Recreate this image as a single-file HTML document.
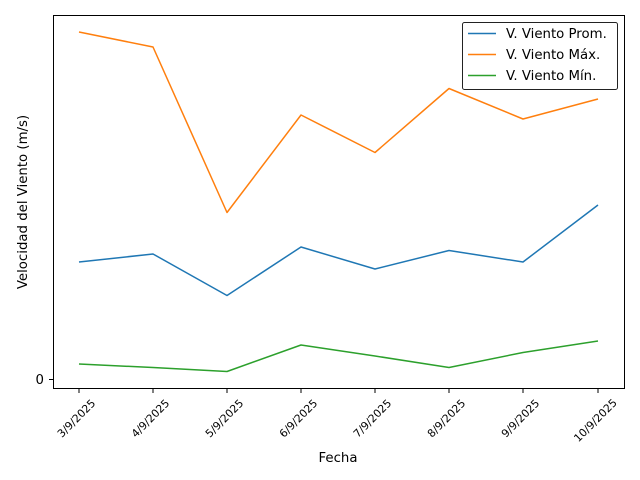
<!DOCTYPE html>
<html><head><meta charset="utf-8"><style>body{margin:0;background:#fff}svg{display:block}</style></head><body>
<svg width="640" height="480" xmlns="http://www.w3.org/2000/svg" font-family="DejaVu Sans, Liberation Sans, sans-serif">
<rect x="0" y="0" width="640" height="480" fill="#fff"/>
<g fill="none" stroke-width="1.5" stroke-linejoin="round">
<polyline stroke="#1f77b4" points="79,262 153,254 227,295.5 301,247 375,269 449,250.5 523,262 598,205"/>
<polyline stroke="#ff7f0e" points="79,32 153,47 227,212.5 301,115 375,152.5 449,88.5 523,119 598,99"/>
<polyline stroke="#2ca02c" points="79,364 153,367.5 227,371.5 301,345 375,356 449,367.5 523,352.5 598,341"/>
</g>
<rect x="53.5" y="15.5" width="571" height="373" fill="none" stroke="#000" stroke-width="1"/>
<g stroke="#000">
<line x1="49" y1="379.5" x2="53.5" y2="379.5"/>
<line x1="79" y1="388.5" x2="79" y2="393"/><line x1="153" y1="388.5" x2="153" y2="393"/>
<line x1="227" y1="388.5" x2="227" y2="393"/><line x1="301" y1="388.5" x2="301" y2="393"/>
<line x1="375" y1="388.5" x2="375" y2="393"/><line x1="449" y1="388.5" x2="449" y2="393"/>
<line x1="523" y1="388.5" x2="523" y2="393"/><line x1="598" y1="388.5" x2="598" y2="393"/>
</g>
<text x="44" y="384" font-size="13.3" text-anchor="end">0</text>
<g font-size="10.8" text-anchor="middle">
<text transform="translate(79,421) rotate(-45)">3/9/2025</text>
<text transform="translate(153,421) rotate(-45)">4/9/2025</text>
<text transform="translate(227,421) rotate(-45)">5/9/2025</text>
<text transform="translate(301,421) rotate(-45)">6/9/2025</text>
<text transform="translate(375,421) rotate(-45)">7/9/2025</text>
<text transform="translate(449,421) rotate(-45)">8/9/2025</text>
<text transform="translate(523,421) rotate(-45)">9/9/2025</text>
<text transform="translate(598,423) rotate(-45)">10/9/2025</text>
</g>
<text x="338" y="462" font-size="13.3" text-anchor="middle">Fecha</text>
<text transform="translate(27,202) rotate(-90)" font-size="13.3" text-anchor="middle">Velocidad del Viento (m/s)</text>
<rect x="462.5" y="22.5" width="155" height="67" rx="2" fill="#fff" stroke="#222"/>
<line x1="468" y1="33.5" x2="496" y2="33.5" stroke="#1f77b4" stroke-width="1.5"/>
<line x1="468" y1="54.5" x2="496" y2="54.5" stroke="#ff7f0e" stroke-width="1.5"/>
<line x1="468" y1="75.5" x2="496" y2="75.5" stroke="#2ca02c" stroke-width="1.5"/>
<g font-size="13.3"><text x="506" y="38">V. Viento Prom.</text><text x="506" y="59">V. Viento Máx.</text><text x="506" y="80">V. Viento Mín.</text></g>
</svg>
</body></html>
